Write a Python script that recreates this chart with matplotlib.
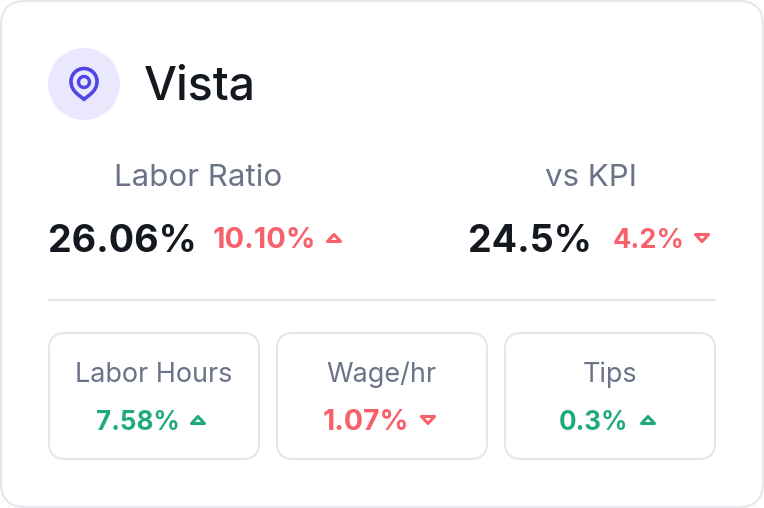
import matplotlib
matplotlib.use("Agg")
import matplotlib.pyplot as plt
from matplotlib.patches import FancyBboxPatch, Circle, PathPatch, Polygon
from matplotlib.path import Path

plt.rcParams['font.family'] = ['Inter', 'DejaVu Sans']

title = "Vista"

top_labels = ["Labor Ratio", "vs KPI"]
top_values = ["26.06%", "24.5%"]
top_changes = ["10.10%", "4.2%"]
top_dirs = ["up", "down"]

card_labels = ["Labor Hours", "Wage/hr", "Tips"]
card_changes = ["7.58%", "1.07%", "0.3%"]
card_dirs = ["up", "down", "up"]
card_colors = ["#1fa97c", "#f8606b", "#1fa97c"]

RED = "#f8606b"
DARK = "#14181f"
GREY = "#6b7388"
BORDER = "#e5e7eb"
INDIGO = "#4f46e5"


def px(s):
    return s * 0.72


def arrow(ax, x, y, direction, color):
    # small rounded triangle, outlined with a white middle
    if direction == "up":
        pts = [(x - 6.5, y + 3.5), (x + 6.5, y + 3.5), (x, y - 3.5)]
    else:
        pts = [(x - 6.5, y - 3.5), (x + 6.5, y - 3.5), (x, y + 3.5)]
    ax.add_patch(Polygon(pts, closed=True, facecolor="white", edgecolor=color, linewidth=2.2, joinstyle="round"))


fig = plt.figure(figsize=(7.64, 5.08), dpi=100)
ax = fig.add_axes([0, 0, 1, 1])
ax.set_xlim(0, 764)
ax.set_ylim(508, 0)
ax.axis("off")

# outer card
ax.add_patch(FancyBboxPatch((1, 1), 762, 506, boxstyle="round,pad=0,rounding_size=24",
                            facecolor="white", edgecolor=BORDER, linewidth=1.5))

# header icon
ax.add_patch(Circle((84, 84), 36, facecolor="#e9e8fd", edgecolor="none"))
pin = Path([(84, 99.5), (81, 96), (71, 92), (71, 81.5), (71, 74), (77, 68.5), (84, 68.5),
            (91, 68.5), (97, 74), (97, 81.5), (97, 92), (87, 96), (84, 99.5), (84, 99.5)],
           [Path.MOVETO, Path.CURVE4, Path.CURVE4, Path.CURVE4, Path.CURVE4, Path.CURVE4, Path.CURVE4,
            Path.CURVE4, Path.CURVE4, Path.CURVE4, Path.CURVE4, Path.CURVE4, Path.CURVE4, Path.CLOSEPOLY])
ax.add_patch(PathPatch(pin, facecolor="none", edgecolor=INDIGO, linewidth=2.6, joinstyle="round"))
ax.add_patch(Circle((84, 82), 5.5, facecolor="none", edgecolor=INDIGO, linewidth=2.4))

ax.text(144, 82.5, title, fontsize=px(46.5), fontweight="medium", color=DARK, va="center_baseline", ha="left")

# top metrics
label_x = [198, 591]
value_x = [48, 468]
change_x = [213, 613]
change_size = [29, 27]
arrow_x = [334, 702]
for i in range(2):
    ax.text(label_x[i], 175, top_labels[i], fontsize=px(31.3), color=GREY, ha="center", va="center_baseline")
    ax.text(value_x[i], 238, top_values[i], fontsize=px(37.6), fontweight="bold", color=DARK, ha="left", va="center_baseline")
    ax.text(change_x[i], 238, top_changes[i], fontsize=px(change_size[i]), fontweight="bold", color=RED, ha="left", va="center_baseline")
    arrow(ax, arrow_x[i], 238, top_dirs[i], RED)

# divider
ax.plot([48, 716], [300, 300], color=BORDER, linewidth=1.5, solid_capstyle="butt")

# bottom cards
card_x = [49, 277, 505]
text_x = [153.5, 381.5, 610]
change_left = [96, 323, 559]
card_size = [26, 28.5, 26]
arrow_card_x = [198, 428, 648]
for i in range(3):
    ax.add_patch(FancyBboxPatch((card_x[i], 333), 210, 126, boxstyle="round,pad=0,rounding_size=16",
                                facecolor="white", edgecolor=BORDER, linewidth=1.5))
    ax.text(text_x[i], 372, card_labels[i], fontsize=px(27), color=GREY, ha="center", va="center_baseline")
    ax.text(change_left[i], 420, card_changes[i], fontsize=px(card_size[i]), fontweight="bold", color=card_colors[i], ha="left", va="center_baseline")
    arrow(ax, arrow_card_x[i], 420, card_dirs[i], card_colors[i])

fig.savefig("out.png", dpi=100, facecolor="white")
